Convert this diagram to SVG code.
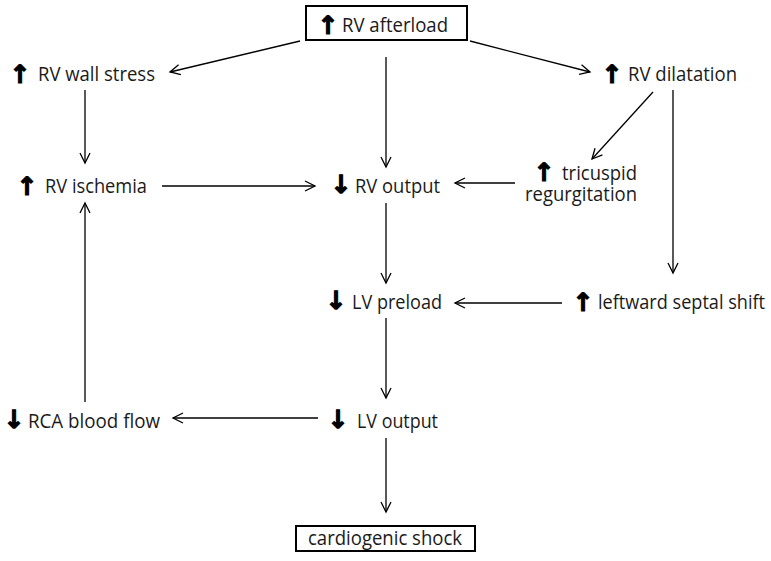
<svg xmlns="http://www.w3.org/2000/svg" width="771" height="561" viewBox="0 0 771 561">
<defs>
<marker id="ah" markerUnits="userSpaceOnUse" markerWidth="14" markerHeight="14" refX="11" refY="6" orient="auto">
<path d="M1,1 L11,6 L1,11" fill="none" stroke="#000" stroke-width="1.3"/>
</marker>
<style>
.t{font-family:"Open Sans","Liberation Sans",sans-serif;font-size:19.5px;fill:#1a1a1a}
.a{font-family:"DejaVu Sans",sans-serif;font-size:25px;font-weight:bold;fill:#000;stroke:#000;stroke-width:1.2;text-anchor:middle}
.box{fill:#fff;stroke:#000;stroke-width:2}
.c line{stroke:#000;stroke-width:1.3;marker-end:url(#ah)}
</style>
</defs>
<rect width="771" height="561" fill="#fff"/>
<g class="c" id="connectors">
<line x1="300" y1="41" x2="170" y2="72"/>
<line x1="470" y1="41" x2="590" y2="72"/>
<line x1="386" y1="57" x2="386" y2="167"/>
<line x1="85" y1="90" x2="85" y2="163"/>
<line x1="162" y1="186" x2="315" y2="186"/>
<line x1="515" y1="183" x2="455" y2="183"/>
<line x1="653" y1="92" x2="592" y2="159"/>
<line x1="673" y1="90" x2="673" y2="273"/>
<line x1="386" y1="203" x2="386" y2="283"/>
<line x1="562" y1="303" x2="455" y2="303"/>
<line x1="386" y1="318" x2="386" y2="398"/>
<line x1="318" y1="418" x2="173" y2="418"/>
<line x1="85" y1="402" x2="85" y2="203"/>
<line x1="386" y1="438" x2="386" y2="512"/>
</g>
<g id="rv-afterload">
<rect class="box" x="306" y="6" width="161" height="34"/>
<text class="a" x="328" y="34">↑</text>
<text class="t" x="342" y="32" textLength="106" lengthAdjust="spacingAndGlyphs">RV afterload</text>
</g>
<g id="rv-wall-stress">
<text class="a" x="20" y="83">↑</text>
<text class="t" x="38" y="81" textLength="117" lengthAdjust="spacingAndGlyphs">RV wall stress</text>
</g>
<g id="rv-dilatation">
<text class="a" x="612" y="83">↑</text>
<text class="t" x="628" y="81" textLength="109" lengthAdjust="spacingAndGlyphs">RV dilatation</text>
</g>
<g id="rv-ischemia">
<text class="a" x="27" y="195">↑</text>
<text class="t" x="45" y="193" textLength="102" lengthAdjust="spacingAndGlyphs">RV ischemia</text>
</g>
<g id="rv-output">
<text class="a" x="341" y="193">↓</text>
<text class="t" x="355" y="193" textLength="85" lengthAdjust="spacingAndGlyphs">RV output</text>
</g>
<g id="tricuspid-regurgitation">
<text class="a" x="544" y="181">↑</text>
<text class="t" x="562" y="180" textLength="75" lengthAdjust="spacingAndGlyphs">tricuspid</text>
<text class="t" x="525" y="201" textLength="112" lengthAdjust="spacingAndGlyphs">regurgitation</text>
</g>
<g id="lv-preload">
<text class="a" x="336" y="309">↓</text>
<text class="t" x="352" y="309" textLength="90" lengthAdjust="spacingAndGlyphs">LV preload</text>
</g>
<g id="leftward-septal-shift">
<text class="a" x="583" y="311">↑</text>
<text class="t" x="598" y="309" textLength="167" lengthAdjust="spacingAndGlyphs">leftward septal shift</text>
</g>
<g id="rca-blood-flow">
<text class="a" x="14" y="428">↓</text>
<text class="t" x="28" y="428" textLength="132" lengthAdjust="spacingAndGlyphs">RCA blood flow</text>
</g>
<g id="lv-output">
<text class="a" x="338" y="428">↓</text>
<text class="t" x="357" y="428" textLength="81" lengthAdjust="spacingAndGlyphs">LV output</text>
</g>
<g id="cardiogenic-shock">
<rect class="box" x="296" y="526" width="179" height="25"/>
<text class="t" x="308" y="545" textLength="154" lengthAdjust="spacingAndGlyphs">cardiogenic shock</text>
</g>
</svg>
